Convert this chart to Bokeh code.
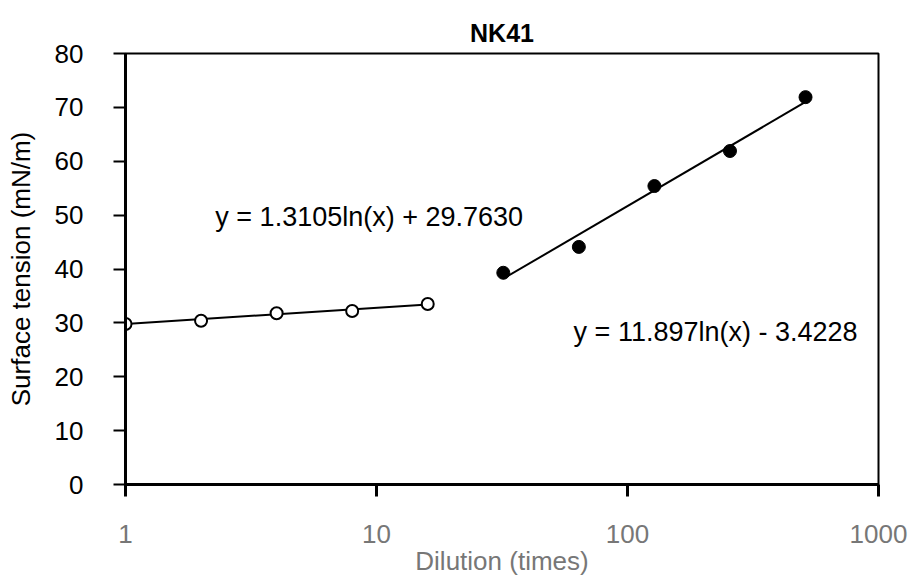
from bokeh.plotting import figure
from bokeh.models import FixedTicker, Label, Title, PrintfTickFormatter
from bokeh.embed import file_html
from bokeh.resources import INLINE

# Data
dil_low = [1, 2, 4, 8, 16]
st_low = [29.8, 30.4, 31.8, 32.2, 33.5]
dil_high = [32, 64, 128, 256, 512]
st_high = [39.3, 44.1, 55.4, 61.9, 71.9]

# Trend lines (endpoints)
trend_low_x = [1, 16]
trend_low_y = [29.8, 33.4]
trend_high_x = [32, 512]
trend_high_y = [38.2, 71.0]

title_text = "NK41"
eq_low = "y = 1.3105ln(x) + 29.7630"
eq_high = "y = 11.897ln(x) - 3.4228"

x_ticks = [1, 10, 100, 1000]
y_ticks = [0, 10, 20, 30, 40, 50, 60, 70, 80]

FONT = "Liberation Sans"

p = figure(width=911, height=578, x_axis_type="log",
           x_range=(1, 1000), y_range=(0, 80),
           output_backend="svg", toolbar_location=None,
           min_border_left=125, min_border_right=33,
           min_border_top=53, min_border_bottom=93)

p.title = Title(text=title_text, align="center", vertical_align="top",
                text_font=FONT, text_font_size="25px",
                text_font_style="bold", text_color="black",
                text_line_height=1.0, offset=0, standoff=10)

p.grid.visible = False
p.outline_line_color = "black"
p.outline_line_width = 2
p.background_fill_color = "white"
p.border_fill_color = "white"

# x axis
xa = p.xaxis[0]
xa.ticker = FixedTicker(ticks=x_ticks)
xa.formatter = PrintfTickFormatter(format="%d")
xa.minor_tick_line_color = None
xa.major_tick_in = 0
xa.major_tick_out = 12
xa.major_tick_line_width = 3
xa.axis_line_width = 3
xa.axis_line_color = "black"
xa.major_label_text_font = FONT
xa.major_label_text_font_size = "26px"
xa.major_label_text_color = "#777777"
xa.major_label_standoff = 28
xa.axis_label = "Dilution (times)"
xa.axis_label_text_font = FONT
xa.axis_label_text_font_size = "26px"
xa.axis_label_text_font_style = "normal"
xa.axis_label_text_color = "#777777"
xa.axis_label_standoff = 0

# y axis
ya = p.yaxis[0]
ya.ticker = FixedTicker(ticks=y_ticks)
ya.minor_tick_line_color = None
ya.major_tick_in = 0
ya.major_tick_out = 12
ya.major_tick_line_width = 2
ya.axis_line_width = 3
ya.axis_line_color = "black"
ya.major_label_text_font = FONT
ya.major_label_text_font_size = "26px"
ya.major_label_text_color = "black"
ya.major_label_standoff = 30
ya.axis_label = "Surface tension (mN/m)"
ya.axis_label_text_font = FONT
ya.axis_label_text_font_size = "26px"
ya.axis_label_text_font_style = "normal"
ya.axis_label_text_color = "black"
ya.axis_label_standoff = 16

# trend lines
p.line(trend_low_x, trend_low_y, line_color="black", line_width=2)
p.line(trend_high_x, trend_high_y, line_color="black", line_width=2)

# markers
p.scatter(dil_low, st_low, marker="circle", size=12, fill_color="white",
          line_color="black", line_width=2)
p.scatter(dil_high, st_high, marker="circle", size=13, fill_color="black",
          line_color="black")

# equation labels
p.add_layout(Label(x=2.28, y=49.6, text=eq_low, text_font=FONT,
                   text_font_size="27px", text_baseline="middle",
                   text_color="black"))
p.add_layout(Label(x=61, y=28.3, text=eq_high, text_font=FONT,
                   text_font_size="27px", text_baseline="middle",
                   text_color="black"))

open("out.html", "w").write(file_html(p, INLINE))
